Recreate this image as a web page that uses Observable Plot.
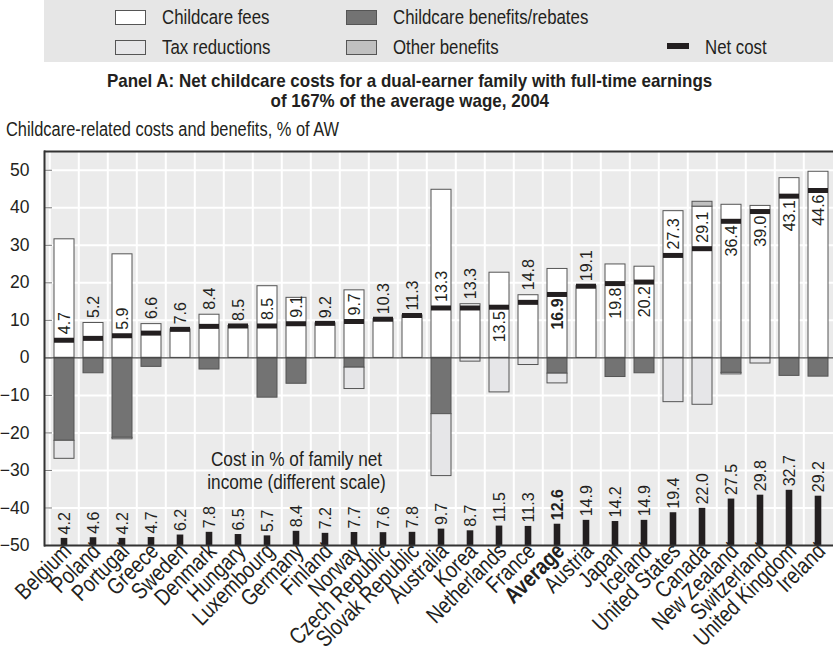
<!DOCTYPE html>
<html><head><meta charset="utf-8">
<script src="https://cdn.jsdelivr.net/npm/d3@7"></script>
<script src="https://cdn.jsdelivr.net/npm/@observablehq/plot@0.6"></script>
<style>
body{margin:0;width:833px;height:660px;overflow:hidden;background:#fff;position:relative;font-family:"Liberation Sans",Arial,sans-serif;color:#231f20}
#chart{position:absolute;left:0;top:0}
#legend{position:absolute;left:44px;top:0;width:789px;height:62px;background:#e6e6e6}
.sw{position:absolute;width:29px;height:13px;border:1px solid #555;box-sizing:content-box}
.lt{position:absolute;font-size:20.5px;line-height:22px;white-space:nowrap;transform:scaleX(0.82);transform-origin:0 50%}
#title{position:absolute;left:0;width:820px;top:71px;text-align:center;font-weight:bold;font-size:19px;line-height:20px}
#title span{display:inline-block;white-space:nowrap;transform:scaleX(0.894);transform-origin:50% 50%}
#sub{position:absolute;left:6px;top:118px;font-size:20px;line-height:22px;white-space:nowrap;transform:scaleX(0.82);transform-origin:0 50%}
</style></head>
<body>
<div id="chart"></div>
<div id="legend"></div>
<div id="title"><span>Panel A: Net childcare costs for a dual-earner family with full-time earnings</span><br><span>of 167% of the average wage, 2004</span></div>
<div id="sub">Childcare-related costs and benefits, % of AW</div>
<script>
const countries = ["Belgium","Poland","Portugal","Greece","Sweden","Denmark","Hungary","Luxembourg","Germany","Finland","Norway","Czech Republic","Slovak Republic","Australia","Korea","Netherlands","France","Average","Austria","Japan","Iceland","United States","Canada","New Zealand","Switzerland","United Kingdom","Ireland"];
const childcareFees = [31.6,9.3,27.6,9.0,7.6,11.5,8.5,19.1,16.0,9.2,18.0,10.3,11.3,44.8,14.3,22.7,16.7,23.7,19.1,24.9,24.3,39.1,40.3,40.8,40.5,47.9,49.6];
const otherBenefits = [0,0,0,0,0,0,0,0,0,0,0,0,0,0,0,0,0,0,0,0,0,0,1.3,0,0,0,0];
const childcareBenefits = [22.1,4.1,21.3,2.4,0,3.1,0,10.6,6.9,0,2.6,0,0,15.0,0,0,0,4.2,0,5.1,4.1,0,0,4.0,0,4.8,5.0];
const taxReductions = [4.8,0,0.4,0,0,0,0,0,0,0,5.7,0,0,16.5,1.0,9.2,1.9,2.6,0,0,0,11.8,12.5,0.4,1.5,0,0];
const netCost = [4.7,5.2,5.9,6.6,7.6,8.4,8.5,8.5,9.1,9.2,9.7,10.3,11.3,13.3,13.3,13.5,14.8,16.9,19.1,19.8,20.2,27.3,29.1,36.4,39.0,43.1,44.6];
const costPctNetIncome = [4.2,4.6,4.2,4.7,6.2,7.8,6.5,5.7,8.4,7.2,7.7,7.6,7.8,9.7,8.7,11.5,11.3,12.6,14.9,14.2,14.9,19.4,22.0,27.5,29.8,32.7,29.2];
const netLabelBelow = ["Netherlands","Average","Japan","Iceland","New Zealand","Switzerland","United Kingdom","Ireland"];
const seriesNames = ["Childcare fees","Other benefits","Childcare benefits/rebates","Tax reductions"];
const seriesColors = ["#ffffff","#c0c0c0","#737373","#e6e6e8"];
const yTicks = [-50,-40,-30,-20,-10,0,10,20,30,40,50];
const bottomScale = 0.45; // "different scale" for cost in % of family net income

// legend
const legend = document.getElementById("legend");
const legItems = [
  {name:"Childcare fees", x:115, y:10, fill:seriesColors[0]},
  {name:"Childcare benefits/rebates", x:346, y:10, fill:seriesColors[2]},
  {name:"Tax reductions", x:115, y:40, fill:seriesColors[3]},
  {name:"Other benefits", x:346, y:40, fill:seriesColors[1]}
];
for (const it of legItems) {
  const s = document.createElement("div"); s.className="sw";
  s.style.left=(it.x-44)+"px"; s.style.top=it.y+"px"; s.style.background=it.fill; legend.appendChild(s);
  const t = document.createElement("div"); t.className="lt"; t.textContent=it.name;
  t.style.left=(it.x-44+47)+"px"; t.style.top=(it.y-4)+"px"; legend.appendChild(t);
}
{
  const s=document.createElement("div"); s.style.cssText="position:absolute;left:623px;top:43px;width:22px;height:6px;background:#231f20"; legend.appendChild(s);
  const t=document.createElement("div"); t.className="lt"; t.textContent="Net cost"; t.style.left="661px"; t.style.top="36px"; legend.appendChild(t);
}

const W=833, H=660, ML=44, MR=-5.6, MT=151, MB=115;
const yDomain=[-50,55];
const pxPerUnit = (H-MT-MB)/(yDomain[1]-yDomain[0]);
const step = (W-ML-MR)/countries.length;

const rows = countries.map((c,i)=>{
  const top = childcareFees[i]+otherBenefits[i];
  const label = netCost[i].toFixed(1);
  const textPx = label.length*8.9 - 4.45;
  const fitsInside = (top-netCost[i])*pxPerUnit >= textPx + 3;
  return {country:c, net:netCost[i], share:costPctNetIncome[i], top, label,
          below: netLabelBelow.includes(c), anchorY: fitsInside ? netCost[i] : top, insideGap: fitsInside};
});
const stackRows = [];
countries.forEach((c,i)=>{
  const vals = [childcareFees[i], otherBenefits[i], -childcareBenefits[i], -taxReductions[i]];
  vals.forEach((v,k)=>{ if (v !== 0) stackRows.push({country:c, series:seriesNames[k], value:v}); });
});

const sans = '"Liberation Sans",Arial,Helvetica,sans-serif';
const isAvg = d => d.country === "Average";
const txt = {fill:"#231f20", fontSize:16, rotate:-90};

const chart = Plot.plot({
  width:W, height:H, marginLeft:ML, marginRight:MR, marginTop:MT, marginBottom:MB,
  style:{fontFamily:sans, background:"transparent", color:"#231f20"},
  x:{domain:countries, padding:0.32, label:null},
  y:{domain:yDomain, label:null},
  color:{domain:seriesNames, range:seriesColors},
  marks:[
    Plot.frame({fill:"#ebebeb", stroke:null}),
    Plot.gridY(yTicks.filter(v=>v>-50), {stroke:"#fff", strokeOpacity:1, strokeWidth:2}),
    Plot.ruleX(countries, {x:d=>d, dx:-step/2, stroke:"#fff", strokeOpacity:1, strokeWidth:2}),
    Plot.barY(stackRows, {x:"country", y:"value", fill:"series", stroke:"#555", strokeWidth:1}),
    Plot.ruleY([0], {stroke:"#444", strokeWidth:1.2}),
    Plot.tickY(rows, {x:"country", y:"net", stroke:"#231f20", strokeWidth:5}),
    Plot.text(rows.filter(d=>!d.below && d.insideGap), {...txt, x:"country", y:"anchorY", text:"label", textAnchor:"start", dy:-6}),
    Plot.text(rows.filter(d=>!d.below && !d.insideGap), {...txt, x:"country", y:"anchorY", text:"label", textAnchor:"start", dy:-5}),
    Plot.text(rows.filter(d=>d.below && !isAvg(d)), {...txt, x:"country", y:"net", text:"label", textAnchor:"end", dy:4}),
    Plot.text(rows.filter(isAvg), {...txt, x:"country", y:"net", text:"label", textAnchor:"end", dy:4, fontWeight:"bold"}),
    Plot.barY(rows, {x:"country", y1:-50, y2:d=>-50+d.share*bottomScale, fill:"#231f20", insetLeft:6.7, insetRight:6.7}),
    Plot.text(rows.filter(d=>!isAvg(d)), {...txt, x:"country", y:d=>-50+d.share*bottomScale, text:d=>d.share.toFixed(1), textAnchor:"start", dy:-4}),
    Plot.text(rows.filter(isAvg), {...txt, x:"country", y:d=>-50+d.share*bottomScale, text:d=>d.share.toFixed(1), textAnchor:"start", dy:-4, fontWeight:"bold"}),
    Plot.text(["Cost in % of family net\nincome (different scale)"], {x:()=>"Germany", y:()=>-30, text:d=>d, fontSize:21, lineHeight:1.1, fill:"#231f20"}),
    Plot.axisY(yTicks, {tickSize:8, dx:8, tickFormat:()=>"", stroke:"#777"}),
    Plot.axisY(yTicks, {tickSize:0, tickPadding:15, fontSize:17.5}),
    Plot.axisX({tickRotate:-45, tickSize:0, tickPadding:6, fontSize:23, dx:3, dy:-4}),
    Plot.ruleY([55], {stroke:"#333", strokeWidth:2}),
    Plot.ruleY([-50], {stroke:"#333", strokeWidth:2}),
    Plot.frame({anchor:"left", stroke:"#333", strokeWidth:2})
  ]
});
// condensed look: compress narrow texts along their baseline
const svg = d3.select(chart);
const squeeze = function(){
  const t = this.getAttribute("transform") || "";
  this.setAttribute("transform", t + " scale(0.82,1)");
};
svg.selectAll('g[aria-label="x-axis tick label"] text').each(squeeze);
svg.selectAll("text").filter(function(){return this.textContent.startsWith("Cost in");}).each(squeeze);
svg.selectAll("text").filter(function(){return this.textContent==="Average";}).attr("font-weight","bold");
document.getElementById("chart").appendChild(chart);
</script>
</body></html>
